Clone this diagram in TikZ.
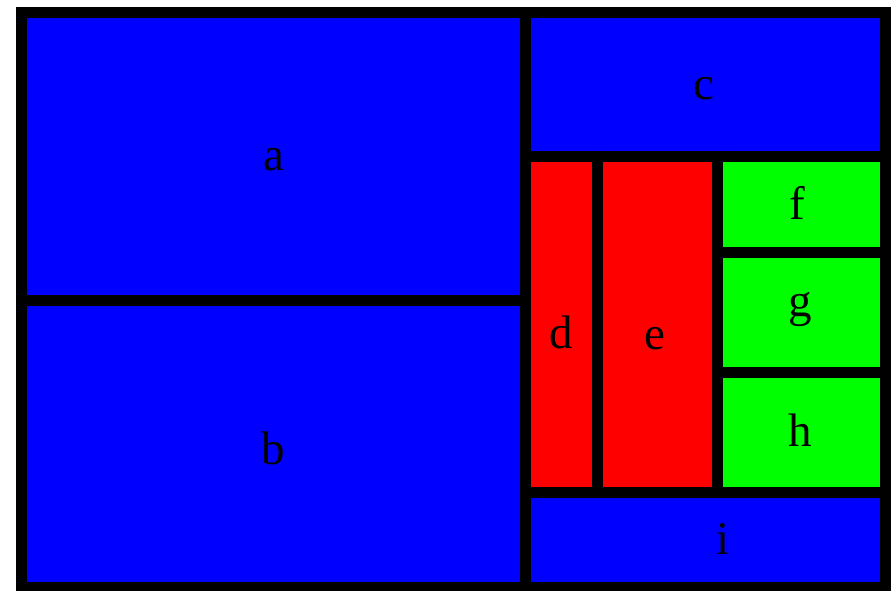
\documentclass[tikz,border=0pt]{standalone}
\usepackage{fontspec}
\setmainfont{Liberation Serif}
\definecolor{cblue}{RGB}{0,0,255}
\definecolor{cred}{RGB}{255,0,0}
\definecolor{cgreen}{RGB}{0,255,0}
\tikzset{
  wall/.style={line width=11pt, line cap=butt},
  lab/.style={anchor=base, inner sep=0pt, font=\fontsize{47}{47}\selectfont},
}
\begin{document}
\begin{tikzpicture}[x=1pt,y=-1pt]
\useasboundingbox (0,0) rectangle (896,591);
% grid coordinates
\coordinate (TL) at (21.5,12.5);
\coordinate (BR) at (885.5,587.5);
% fills
\fill[cblue] (21.5,12.5) rectangle (525.5,300.5);
\fill[cblue] (21.5,300.5) rectangle (525.5,587.5);
\fill[cblue] (525.5,12.5) rectangle (885.5,156.5);
\fill[cred] (525.5,156.5) rectangle (597.5,492.5);
\fill[cred] (597.5,156.5) rectangle (717.5,492.5);
\fill[cgreen] (717.5,156.5) rectangle (885.5,252.5);
\fill[cgreen] (717.5,252.5) rectangle (885.5,372.5);
\fill[cgreen] (717.5,372.5) rectangle (885.5,492.5);
\fill[cblue] (525.5,492.5) rectangle (885.5,587.5);
% walls
\coordinate (m1) at (525.5,7);
\coordinate (m2) at (525.5,592);
\coordinate (ab1) at (16,300.5);
\coordinate (ab2) at (525.5,300.5);
\coordinate (c1) at (519.5,156.5);
\coordinate (c2) at (885.5,156.5);
\coordinate (d1) at (597.5,150.5);
\coordinate (d2) at (597.5,492.5);
\coordinate (e1) at (717.5,150.5);
\coordinate (e2) at (717.5,492.5);
\coordinate (f1) at (711.5,252.5);
\coordinate (f2) at (885.5,252.5);
\coordinate (g1) at (711.5,372.5);
\coordinate (g2) at (885.5,372.5);
\coordinate (i1) at (519.5,492.5);
\coordinate (i2) at (885.5,492.5);
\draw[wall] (TL) rectangle (BR);
\draw[wall] (m1) -- (m2);
\draw[wall] (ab1) -- (ab2);
\draw[wall] (c1) -- (c2);
\draw[wall] (d1) -- (d2);
\draw[wall] (e1) -- (e2);
\draw[wall] (f1) -- (f2);
\draw[wall] (g1) -- (g2);
\draw[wall] (i1) -- (i2);
% labels
\node[lab] (a) at (274,170) {a};
\node[lab] (b) at (273,464.5) {b};
\node[lab] (c) at (704,99.5) {c};
\node[lab] (d) at (561,348.5) {d};
\node[lab] (e) at (655,349) {e};
\node[lab] (f) at (797,219) {f};
\node[lab] (g) at (800,316) {g};
\node[lab] (h) at (800,446) {h};
\node[lab] (i) at (723,554.5) {i};
\end{tikzpicture}
\end{document}
